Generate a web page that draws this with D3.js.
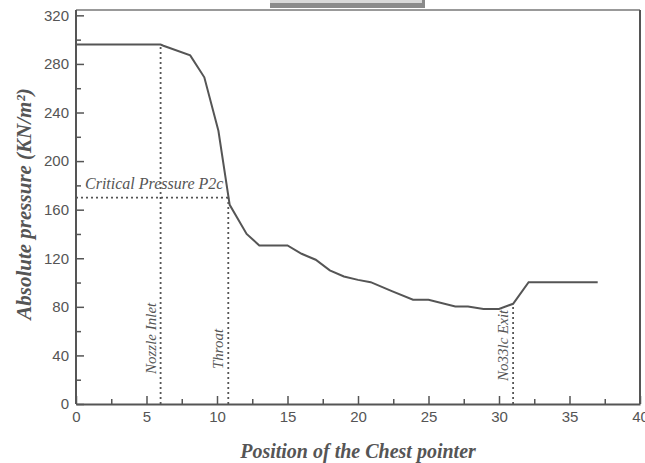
<!DOCTYPE html>
<html>
<head>
<meta charset="utf-8">
<script src="https://cdn.jsdelivr.net/npm/d3@7"></script>
<style>
  body { margin: 0; background: #fff; }
</style>
</head>
<body>
<script>
// pressure profile along the nozzle
const position = [0, 6, 6.2, 8.1, 9.1, 10.1, 10.9, 12.1, 13, 15, 16, 17, 18, 19, 20, 20.9, 22.4, 23.9, 25, 26.9, 27.8, 28.9, 30, 31, 32.1, 37];
const pressure = [296, 296, 295, 287, 269, 225, 164, 140, 130.6, 130.6, 123.7, 118.8, 110, 105, 102.2, 100.3, 92.9, 85.8, 85.8, 80.2, 80.2, 78.3, 78.3, 82.5, 100.3, 100.3];

const markerNames = ["Nozzle Inlet", "Throat", "No33lc Exit"];
const markerX = [6, 10.8, 31];
const markerTop = [296, 170, 82];

const criticalLabel = "Critical Pressure P2c";
const criticalP = 170;

const xTicks = [0, 5, 10, 15, 20, 25, 30, 35, 40];
const yTicks = [0, 40, 80, 120, 160, 200, 240, 280, 320];

const W = 645, H = 463;
const margin = { left: 76, right: 5, top: 10, bottom: 59 };
const ink = "#555";

const svg = d3.select("body").append("svg")
  .attr("width", W)
  .attr("height", H);

const x = d3.scaleLinear().domain([0, 40]).range([margin.left, W - margin.right]);
const y = d3.scaleLinear().domain([0, 324.4]).range([H - margin.bottom, margin.top]);

// scan artifact at the top
svg.append("rect").attr("x", 270).attr("y", 0).attr("width", 155).attr("height", 8).attr("fill", "#8a8a8a");
svg.append("rect").attr("x", 270).attr("y", 0).attr("width", 152).attr("height", 3).attr("fill", "#d8d8d8");

// frame
svg.append("line").attr("x1", x(0)).attr("x2", x(40)).attr("y1", margin.top).attr("y2", margin.top)
  .attr("stroke", "#777").attr("stroke-width", 1.5);
svg.append("line").attr("x1", x(40)).attr("x2", x(40)).attr("y1", margin.top).attr("y2", y(0))
  .attr("stroke", ink).attr("stroke-width", 2);

// axes with inward ticks
const tickFont = "Liberation Sans Narrow, Liberation Sans, Arial, sans-serif";
const xAxis = svg.append("g").attr("transform", `translate(0,${y(0)})`)
  .call(d3.axisBottom(x).tickValues(d3.range(0, 40.1, 2.5)).tickSize(-6).tickSizeOuter(0)
    .tickFormat(d => xTicks.includes(d) ? d : ""));
xAxis.selectAll("line").attr("stroke", ink).attr("stroke-width", 1.5)
  .attr("y2", d => xTicks.includes(d) ? -8 : -5);
xAxis.select(".domain").attr("stroke", ink).attr("stroke-width", 2);
xAxis.selectAll("text").attr("fill", ink).attr("font-family", tickFont)
  .attr("font-size", 15).attr("y", 7).attr("dy", "0.71em");

const yAxis = svg.append("g").attr("transform", `translate(${x(0)},0)`)
  .call(d3.axisLeft(y).tickValues(d3.range(0, 321, 20)).tickSize(-6).tickSizeOuter(0)
    .tickFormat(d => yTicks.includes(d) ? d : ""));
yAxis.selectAll("line").attr("stroke", ink).attr("stroke-width", 1.5)
  .attr("x2", d => yTicks.includes(d) ? 8 : 5);
yAxis.select(".domain").attr("stroke", ink).attr("stroke-width", 2)
  .attr("d", `M0,${y(0)}V${margin.top}`);
yAxis.selectAll("text").attr("fill", ink).attr("font-family", tickFont)
  .attr("font-size", 15).attr("x", -7);

// dotted guides
const dots = "2,3";
svg.append("line")
  .attr("x1", x(0)).attr("x2", x(10.9)).attr("y1", y(criticalP)).attr("y2", y(criticalP))
  .attr("stroke", ink).attr("stroke-width", 1.8).attr("stroke-dasharray", dots);

svg.selectAll(".marker").data(markerX).join("line")
  .attr("x1", d => x(d)).attr("x2", d => x(d))
  .attr("y1", y(0)).attr("y2", (d, i) => y(markerTop[i]))
  .attr("stroke", ink).attr("stroke-width", 1.8).attr("stroke-dasharray", dots);

// curve
const pts = position.map((p, i) => [p, pressure[i]]);
svg.append("path")
  .datum(pts)
  .attr("fill", "none")
  .attr("stroke", ink)
  .attr("stroke-width", 2)
  .attr("d", d3.line().x(d => x(d[0])).y(d => y(d[1])));

// annotations
const serif = "Liberation Serif, Times New Roman, serif";
svg.append("text")
  .attr("x", x(0) + 9).attr("y", y(criticalP) - 9)
  .attr("font-family", serif).attr("font-style", "italic")
  .attr("font-size", 16).attr("fill", ink)
  .text(criticalLabel);

const labelBottom = [374, 369, 381];
svg.selectAll(".mlabel").data(markerNames).join("text")
  .attr("transform", (d, i) => `translate(${x(markerX[i]) - 5},${labelBottom[i]}) rotate(-90)`)
  .attr("font-family", serif).attr("font-style", "italic")
  .attr("font-size", 15).attr("fill", ink)
  .text(d => d);

svg.append("text")
  .attr("x", 358).attr("y", 458)
  .attr("text-anchor", "middle")
  .attr("font-family", serif).attr("font-style", "italic").attr("font-weight", "bold")
  .attr("font-size", 20).attr("fill", ink)
  .text("Position of the Chest pointer");

svg.append("text")
  .attr("transform", "translate(31,204) rotate(-90)")
  .attr("text-anchor", "middle")
  .attr("font-family", serif).attr("font-style", "italic").attr("font-weight", "bold")
  .attr("font-size", 21).attr("fill", ink)
  .text("Absolute pressure (KN/m²)");
</script>
</body>
</html>
